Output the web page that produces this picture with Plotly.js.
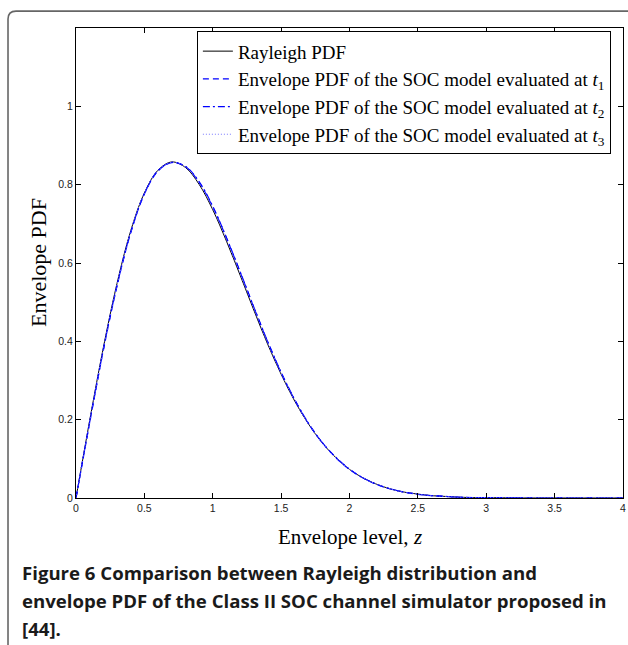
<!DOCTYPE html>
<html>
<head>
<meta charset="utf-8">
<script src="https://cdn.plot.ly/plotly-3.0.1.min.js"></script>
<style>html,body{margin:0;padding:0;background:#fff;}#chart{width:628px;height:645px;}</style>
</head>
<body>
<div id="chart"></div>
<script>
// Envelope level z
const zLevels = [0,0.1,0.2,0.3,0.4,0.5,0.6,0.7,0.8,0.9,1.0,1.1,1.2,1.3,1.4,1.5,1.6,1.7,1.8,1.9,2.0,2.1,2.2,2.3,2.4,2.5,2.6,2.7,2.8,2.9,3.0,3.25,3.5,3.75,4.0];
// Rayleigh PDF
const rayleighPdf = [0,0.198,0.384,0.548,0.682,0.779,0.837,0.858,0.844,0.801,0.736,0.656,0.569,0.480,0.394,0.316,0.247,0.189,0.141,0.103,0.073,0.051,0.035,0.023,0.015,0.010,0.006,0.004,0.002,0.001,0.001,0.0001,0.00003,0,0];
// Envelope PDF of the SOC model at t1, t2, t3
const socT1 = [0,0.192,0.377,0.541,0.677,0.776,0.835,0.856,0.846,0.806,0.743,0.664,0.577,0.487,0.400,0.320,0.250,0.190,0.142,0.103,0.073,0.051,0.034,0.023,0.015,0.009,0.006,0.004,0.002,0.001,0.001,0.0001,0.00003,0,0];
const socT2 = [0,0.194,0.379,0.543,0.678,0.777,0.836,0.857,0.847,0.808,0.745,0.665,0.578,0.488,0.401,0.321,0.251,0.191,0.142,0.104,0.074,0.051,0.035,0.023,0.015,0.010,0.006,0.004,0.002,0.001,0.001,0.0001,0.00003,0,0];
const socT3 = [0,0.196,0.381,0.545,0.680,0.778,0.836,0.857,0.845,0.804,0.740,0.660,0.573,0.484,0.397,0.318,0.249,0.190,0.141,0.103,0.073,0.051,0.035,0.023,0.015,0.010,0.006,0.004,0.002,0.001,0.001,0.0001,0.00003,0,0];

const seriesNames = [
  'Rayleigh PDF',
  'Envelope PDF of the SOC model evaluated at <i>t</i><sub>1</sub>',
  'Envelope PDF of the SOC model evaluated at <i>t</i><sub>2</sub>',
  'Envelope PDF of the SOC model evaluated at <i>t</i><sub>3</sub>'
];
const xTicks = [0,0.5,1,1.5,2,2.5,3,3.5,4];
const xTickText = ['0','0.5','1','1.5','2','2.5','3','3.5','4'];
const yTicks = [0,0.2,0.4,0.6,0.8,1];
const yTickText = ['0','0.2','0.4','0.6','0.8','1'];
const captionLines = [
  'Figure 6 Comparison between Rayleigh distribution and',
  'envelope PDF of the Class II SOC channel simulator proposed in',
  '[44].'
];

const serif = 'Liberation Serif, Times New Roman, serif';
const traces = [
  {x: zLevels, y: rayleighPdf, name: seriesNames[0], legendgroup: 'a', line: {color: '#000000', width: 1, shape: 'spline'}},
  {x: zLevels, y: socT1, name: seriesNames[1], legendgroup: 'b', line: {color: '#0000ff', width: 1.2, dash: '6px,4px', shape: 'spline'}},
  {x: zLevels, y: socT2, name: seriesNames[2], legendgroup: 'c', line: {color: '#0000ff', width: 1.2, dash: '7px,3px,2px,3px', shape: 'spline'}},
  {x: zLevels, y: socT3, name: seriesNames[3], legendgroup: 'd', line: {color: '#7777ff', width: 1, dash: '1px,2px', shape: 'spline'}}
].map(t => Object.assign({type: 'scatter', mode: 'lines', hoverinfo: 'skip'}, t));

const axisCommon = {
  showline: true, linecolor: '#000', linewidth: 1, mirror: 'ticks',
  ticks: 'inside', ticklen: 5, tickcolor: '#000', tickwidth: 1,
  showgrid: false, zeroline: false,
  tickfont: {family: 'Liberation Sans, Arial, sans-serif', size: 10.5, color: '#222'}
};

const captionFont = {family: 'Open Sans, sans-serif', size: 18.6, color: '#1a1a1a'};
const captionShifts = [-74, -102, -130];

const layout = {
  width: 628, height: 645,
  margin: {l: 76, r: 5, t: 28, b: 147},
  paper_bgcolor: '#fff', plot_bgcolor: '#fff',
  showlegend: true,
  legend: {
    x: 0.221, y: 0.993, xanchor: 'left', yanchor: 'top',
    bordercolor: '#000', borderwidth: 1, bgcolor: '#fff',
    font: {family: serif, size: 19, color: '#000'},
    traceorder: 'grouped', tracegroupgap: 0
  },
  xaxis: Object.assign({}, axisCommon, {range: [0, 4], tickvals: xTicks, ticktext: xTickText}),
  yaxis: Object.assign({}, axisCommon, {range: [0, 1.2], tickvals: yTicks, ticktext: yTickText}),
  annotations: [
    {xref: 'paper', yref: 'paper', x: 0.5, y: 0, yshift: -39, xanchor: 'center', yanchor: 'middle', showarrow: false,
     text: 'Envelope level, <i>z</i>', font: {family: serif, size: 21, color: '#000'}},
    {xref: 'paper', yref: 'paper', x: 0, y: 0.5, xshift: -38, xanchor: 'center', yanchor: 'middle', showarrow: false, textangle: -90,
     text: 'Envelope PDF', font: {family: serif, size: 22, color: '#000'}}
  ].concat(captionLines.map((t, i) => ({
     xref: 'paper', yref: 'paper', x: 0, y: 0, xshift: -56, yshift: captionShifts[i], xanchor: 'left', yanchor: 'middle',
     showarrow: false, align: 'left', text: '<b>' + t + '</b>', font: captionFont
  }))),
  shapes: [
    {type: 'path', xref: 'paper', yref: 'paper',
     path: 'M -0.1243,-0.5 L -0.1243,1.019 Q -0.1243,1.036 -0.1097,1.036 L 1.2,1.036',
     line: {color: '#666', width: 1.6}}
  ]
};

Plotly.newPlot('chart', traces, layout, {displayModeBar: false, staticPlot: true});
</script>
</body>
</html>
